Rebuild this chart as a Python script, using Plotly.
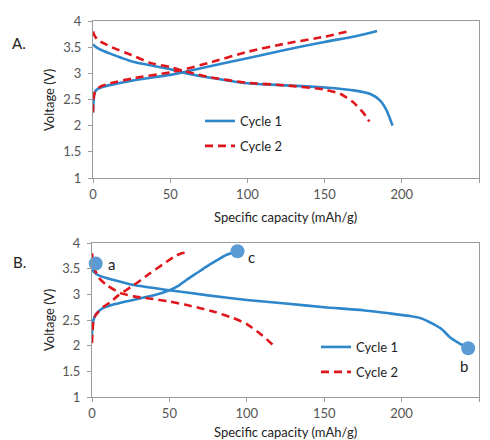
import plotly.graph_objects as go

# ---------------- data ----------------
# Panel A
a_c1_charge_cap = [0, 0.3, 1, 2, 5, 10, 25, 50, 57, 75, 100, 125, 150, 170, 184]
a_c1_charge_v = [2.25, 2.45, 2.62, 2.68, 2.73, 2.77, 2.86, 2.97, 3.01, 3.13, 3.29, 3.45, 3.60, 3.71, 3.81]
a_c1_dis_cap = [0, 2, 5, 10, 26, 50, 57, 75, 100, 125, 150, 170, 180, 186, 190, 194]
a_c1_dis_v = [3.55, 3.50, 3.45, 3.39, 3.22, 3.08, 3.02, 2.92, 2.81, 2.77, 2.73, 2.67, 2.60, 2.48, 2.30, 2.00]
a_c2_charge_cap = [0, 0.3, 1, 2, 5, 10, 25, 50, 57, 75, 100, 125, 150, 165]
a_c2_charge_v = [2.25, 2.50, 2.62, 2.68, 2.75, 2.80, 2.90, 3.02, 3.06, 3.20, 3.41, 3.57, 3.70, 3.80]
a_c2_dis_cap = [0, 1, 3, 8, 12, 25, 37, 50, 57, 75, 100, 125, 150, 160, 168, 175, 179]
a_c2_dis_v = [3.80, 3.72, 3.64, 3.56, 3.50, 3.35, 3.20, 3.12, 3.06, 2.93, 2.82, 2.77, 2.69, 2.61, 2.46, 2.25, 2.08]

# Panel B
b_c1_dis_cap = [0, 1, 5, 14, 27, 50, 75, 100, 125, 150, 175, 192, 205, 212, 220, 226, 231, 237, 243]
b_c1_dis_v = [3.50, 3.44, 3.36, 3.28, 3.18, 3.08, 2.98, 2.89, 2.82, 2.75, 2.69, 2.63, 2.58, 2.54, 2.43, 2.32, 2.17, 2.05, 1.95]
b_c1_charge_cap = [0, 0.5, 1.5, 3, 7, 15, 25, 40, 50, 56, 61, 68, 74, 80, 87, 94]
b_c1_charge_v = [2.20, 2.45, 2.55, 2.63, 2.73, 2.81, 2.88, 2.98, 3.08, 3.17, 3.28, 3.42, 3.54, 3.65, 3.77, 3.84]
b_c2_dis_cap = [0, 1, 3, 5, 9.5, 18, 27, 37, 50, 60, 70, 80, 91, 100, 110, 117]
b_c2_dis_v = [3.80, 3.55, 3.40, 3.30, 3.18, 3.03, 2.96, 2.92, 2.86, 2.80, 2.73, 2.65, 2.54, 2.42, 2.20, 2.01]
b_c2_charge_cap = [0, 0.5, 1.5, 4, 8, 12, 17, 27, 37, 48, 54, 58, 62]
b_c2_charge_v = [2.05, 2.35, 2.55, 2.66, 2.77, 2.85, 2.98, 3.18, 3.40, 3.63, 3.75, 3.80, 3.82]

point_labels = ["a", "c", "b"]
point_cap = [2.4, 94, 243]
point_v = [3.60, 3.84, 1.95]

x_ticks = [0, 50, 100, 150, 200, 250]
y_ticks = [1, 1.5, 2, 2.5, 3, 3.5, 4]
y_tick_text = ["1", "1.5", "2", "2.5", "3", "3.5", "4"]

# ---------------- style ----------------
BLUE = "#2E86CB"
RED = "#E0161C"
MARK = "#5B9BD5"
FONT = "Lato"
OFF = 8  # default page body margin
W, H = 490 - OFF, 440 - OFF

fig = go.Figure()

def add_line(x, y, color, dash, name, show, xa, ya, legend):
    fig.add_trace(go.Scatter(
        x=x, y=y, mode="lines", name=name, showlegend=show,
        legendgroup=name + legend, legend=legend,
        line=dict(color=color, width=2.6, dash=dash, shape="spline", smoothing=0.6),
        xaxis=xa, yaxis=ya, hoverinfo="skip"))

DASH = "8px,5px"
add_line(a_c1_charge_cap, a_c1_charge_v, BLUE, "solid", "Cycle 1", True, "x", "y", "legend")
add_line(a_c1_dis_cap, a_c1_dis_v, BLUE, "solid", "Cycle 1", False, "x", "y", "legend")
add_line(a_c2_charge_cap, a_c2_charge_v, RED, DASH, "Cycle 2", True, "x", "y", "legend")
add_line(a_c2_dis_cap, a_c2_dis_v, RED, DASH, "Cycle 2", False, "x", "y", "legend")

add_line(b_c1_dis_cap, b_c1_dis_v, BLUE, "solid", "Cycle 1", True, "x2", "y2", "legend2")
add_line(b_c1_charge_cap, b_c1_charge_v, BLUE, "solid", "Cycle 1", False, "x2", "y2", "legend2")
add_line(b_c2_dis_cap, b_c2_dis_v, RED, DASH, "Cycle 2", True, "x2", "y2", "legend2")
add_line(b_c2_charge_cap, b_c2_charge_v, RED, DASH, "Cycle 2", False, "x2", "y2", "legend2")

fig.add_trace(go.Scatter(
    x=point_cap, y=point_v, mode="markers", showlegend=False,
    marker=dict(color=MARK, size=14, line=dict(width=0)),
    xaxis="x2", yaxis="y2", hoverinfo="skip", cliponaxis=False))

label_shift = {"a": (16, 0), "c": (14, -6), "b": (-4, -18)}
for lab, cx, cy in zip(point_labels, point_cap, point_v):
    dx, dy = label_shift[lab]
    fig.add_annotation(x=cx, y=cy, xref="x2", yref="y2", text=lab, showarrow=False,
                       xanchor="center", yanchor="middle",
                       xshift=dx, yshift=dy, font=dict(size=15, color="#222", family=FONT))

axis_common = dict(
    showgrid=False, zeroline=False, showline=True, linecolor="#9a9a9a", linewidth=1,
    mirror=True, ticks="outside", ticklen=4, tickcolor="#9a9a9a", automargin=False,
    tickfont=dict(size=13, color="#555", family=FONT))

def px_x(p):
    return (p - OFF) / W

def px_y(p):
    return 1 - (p - OFF) / H

fig.update_layout(
    width=W, height=H, margin=dict(l=0, r=0, t=0, b=0, autoexpand=False),
    paper_bgcolor="white", plot_bgcolor="white",
    font=dict(family=FONT),
    xaxis=dict(domain=[px_x(93), px_x(479)], range=[0, 250], tickvals=x_ticks,
               anchor="y", **axis_common),
    yaxis=dict(domain=[px_y(178), px_y(21)], range=[1, 4], tickvals=y_ticks,
               ticktext=y_tick_text, anchor="x", ticklabelstandoff=4, **axis_common),
    xaxis2=dict(domain=[px_x(92), px_x(479)], range=[0, 250], tickvals=x_ticks,
                anchor="y2", **axis_common),
    yaxis2=dict(domain=[px_y(397), px_y(243)], range=[1, 4], tickvals=y_ticks,
                ticktext=y_tick_text, anchor="x2", ticklabelstandoff=4, **axis_common),
    legend=dict(x=px_x(200), y=px_y(106), xanchor="left", yanchor="top",
                bgcolor="rgba(0,0,0,0)", font=dict(size=13, color="#222", family=FONT),
                tracegroupgap=5, itemwidth=30),
    legend2=dict(x=px_x(316), y=px_y(332), xanchor="left", yanchor="top",
                 bgcolor="rgba(0,0,0,0)", font=dict(size=13, color="#222", family=FONT),
                 tracegroupgap=5, itemwidth=30),
)

def paper_text(txt, x, y, size, angle=0):
    fig.add_annotation(x=px_x(x), y=px_y(y), xref="paper", yref="paper", text=txt,
                       xanchor="center", yanchor="middle", textangle=angle,
                       showarrow=False, font=dict(size=size, color="#222", family=FONT))

# panel letters and axis titles
paper_text("A.", 19, 43, 15)
paper_text("B.", 19, 262, 15)
paper_text("Voltage (V)", 49, 100, 13, -90)
paper_text("Voltage (V)", 49, 320, 13, -90)
paper_text("Specific capacity (mAh/g)", 285, 217, 13)
paper_text("Specific capacity (mAh/g)", 285, 432, 13)

fig.write_html("out.html")
